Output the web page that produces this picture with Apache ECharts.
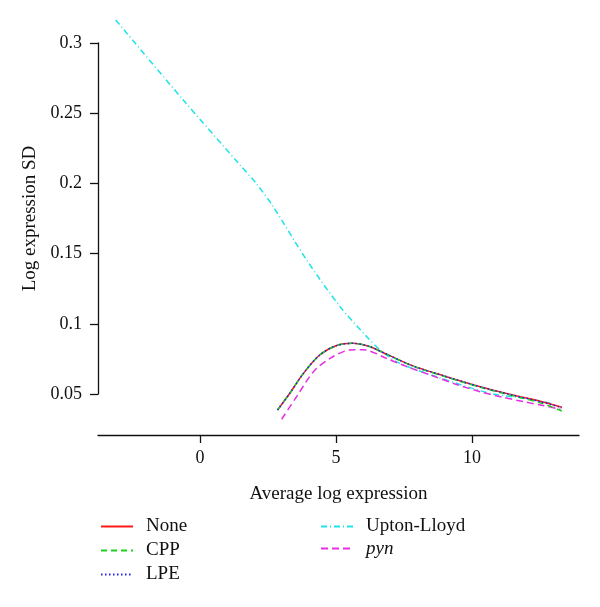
<!DOCTYPE html>
<html>
<head>
<meta charset="utf-8">
<script src="https://cdn.jsdelivr.net/npm/echarts@6/dist/echarts.min.js"></script>
<style>html,body{margin:0;padding:0;background:#fff}#c{width:600px;height:607px}</style>
</head>
<body>
<div id="c"></div>
<script>
const xTicks = [0, 5, 10];
const yTicks = [0.05, 0.1, 0.15, 0.2, 0.25, 0.3];

const noneX = [2.85, 3.3, 3.8, 4.4, 5.0, 5.6, 6.2, 6.9, 7.8, 9.0, 10.3, 11.5, 12.5, 13.3];
const noneY = [0.0386, 0.0505, 0.0647, 0.0778, 0.0844, 0.0861, 0.0840, 0.0780, 0.0702, 0.0627, 0.0552, 0.0493, 0.0448, 0.0405];
const cppX  = [2.85, 3.3, 3.8, 4.4, 5.0, 5.6, 6.2, 6.9, 7.8, 9.0, 10.3, 11.5, 12.5, 13.3];
const cppY  = [0.0386, 0.0505, 0.0647, 0.0778, 0.0844, 0.0861, 0.0840, 0.0779, 0.0700, 0.0624, 0.0548, 0.0487, 0.0438, 0.0379];
const lpeX  = [2.85, 3.3, 3.8, 4.4, 5.0, 5.6, 6.2, 6.9, 7.8, 9.0, 10.3, 11.5, 12.5, 13.3];
const lpeY  = [0.0386, 0.0505, 0.0647, 0.0778, 0.0844, 0.0861, 0.0840, 0.0780, 0.0702, 0.0627, 0.0551, 0.0492, 0.0446, 0.0402];
const uplX  = [-3.1, -0.6, 1.47, 2.06, 2.69, 3.92, 5.15, 6.13, 6.7, 7.35, 8.7, 10.66, 12.0, 12.9];
const uplY  = [0.3164, 0.259, 0.2131, 0.2001, 0.1834, 0.1454, 0.1122, 0.0908, 0.0800, 0.0718, 0.0623, 0.0505, 0.0468, 0.0434];
const pynX  = [3.0, 3.55, 4.17, 4.78, 5.5, 6.0, 6.9, 7.6, 8.5, 9.4, 10.3, 11.1, 11.9, 12.6, 13.25];
const pynY  = [0.0320, 0.0481, 0.0659, 0.0754, 0.0813, 0.0815, 0.0750, 0.0695, 0.0633, 0.0570, 0.0516, 0.0478, 0.0445, 0.0418, 0.0391];

const names = ['None', 'CPP', 'LPE', 'Upton-Lloyd', 'pyn'];

function pts(xs, ys) { return xs.map((x, i) => [x, ys[i]]); }

const FONT = 'Liberation Serif';
const chart = echarts.init(document.getElementById('c'), null, {renderer: 'canvas'});

function mk(name, xs, ys, color, type) {
  return {
    name: name, type: 'line', data: pts(xs, ys), symbol: 'none', clip: false,
    smooth: 0.3,
    lineStyle: {color: color, width: 1.5, type: type},
    itemStyle: {color: color}
  };
}

chart.setOption({
  animation: false,
  backgroundColor: '#fff',
  grid: {left: 98, right: 21, top: 43, height: 351},
  xAxis: {
    type: 'value', min: -3.75, max: 13.93, offset: 41,
    name: 'Average log expression', nameLocation: 'middle', nameGap: 50,
    nameTextStyle: {fontFamily: FONT, fontSize: 19, color: '#111'},
    axisLine: {onZero: false, lineStyle: {color: '#111', width: 1.3}},
    axisTick: {show: true, length: 8, customValues: xTicks, lineStyle: {color: '#111', width: 1.3}},
    axisLabel: {customValues: xTicks, margin: 14, fontFamily: FONT, fontSize: 18, color: '#111'},
    splitLine: {show: false}
  },
  yAxis: {
    type: 'value', min: yTicks[0], max: yTicks[yTicks.length - 1], interval: 0.05,
    name: 'Log expression SD', nameLocation: 'middle', nameGap: 50,
    nameTextStyle: {fontFamily: FONT, fontSize: 19, color: '#111'},
    axisLine: {show: true, onZero: false, lineStyle: {color: '#111', width: 1.3}},
    axisTick: {show: true, length: 8, lineStyle: {color: '#111', width: 1.3}},
    axisLabel: {margin: 16, fontFamily: FONT, fontSize: 18, color: '#111'},
    splitLine: {show: false}
  },
  legend: [
    {
      data: names.slice(0, 3), orient: 'vertical', left: 100, top: 517, padding: 0,
      itemWidth: 32, itemHeight: 14, itemGap: 5,
      itemStyle: {color: 'rgba(0,0,0,0)', borderWidth: 0},
      textStyle: {fontFamily: FONT, fontSize: 19, color: '#111', padding: [0, 0, 0, 8]}
    },
    {
      data: names.slice(3), orient: 'vertical', left: 320, top: 517, padding: 0,
      itemWidth: 32, itemHeight: 14, itemGap: 3,
      itemStyle: {color: 'rgba(0,0,0,0)', borderWidth: 0},
      formatter: function (n) { return n === 'pyn' ? '{i|pyn}' : n; },
      textStyle: {fontFamily: FONT, fontSize: 19, color: '#111', padding: [0, 0, 0, 8],
        rich: {i: {fontFamily: FONT, fontSize: 19, fontStyle: 'italic', color: '#111'}}}
    }
  ],
  series: [
    mk('Upton-Lloyd', uplX, uplY, '#1ee3e8', [6, 3, 1, 3]),
    mk('pyn', pynX, pynY, '#e62ee6', [7, 4]),
    mk('None', noneX, noneY, '#ff1a1a', 'solid'),
    mk('CPP', cppX, cppY, '#1ecf1e', [6, 4]),
    mk('LPE', lpeX, lpeY, '#2222ee', [1.5, 2.5])
  ]
});
</script>
</body>
</html>
